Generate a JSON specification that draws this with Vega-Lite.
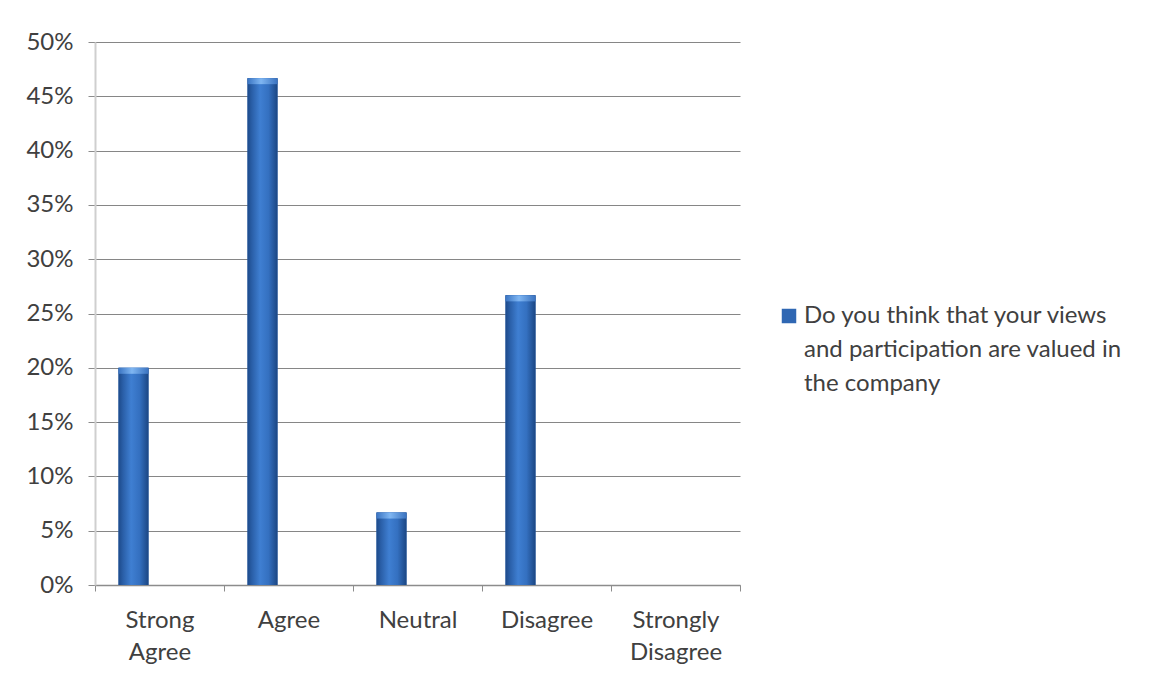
{
  "$schema": "https://vega.github.io/schema/vega-lite/v6.json",
  "width": 645,
  "height": 543,
  "autosize": "none",
  "padding": {"left": 95, "top": 42, "right": 411, "bottom": 93},
  "background": "white",
  "config": {
    "font": "Lato",
    "view": {"stroke": null},
    "style": {"guide-label": {"lineHeight": 34}},
    "axis": {
      "labelFont": "Lato",
      "labelColor": "#404040",
      "labelFontSize": 24,
      "domainColor": "#a6a6a6",
      "tickColor": "#a6a6a6",
      "gridColor": "#868686",
      "gridWidth": 1
    },
    "legend": {"labelFont": "Lato", "labelColor": "#404040", "labelFontSize": 24}
  },
  "data": {
    "values": [
      {"response": "Strong Agree", "pct": 0.20, "series": "Do you think that your views and participation are valued in the company"},
      {"response": "Agree", "pct": 0.4667, "series": "Do you think that your views and participation are valued in the company"},
      {"response": "Neutral", "pct": 0.0667, "series": "Do you think that your views and participation are valued in the company"},
      {"response": "Disagree", "pct": 0.2667, "series": "Do you think that your views and participation are valued in the company"},
      {"response": "Strongly Disagree", "pct": 0.0, "series": "Do you think that your views and participation are valued in the company"}
    ]
  },
  "encoding": {
    "x": {
      "field": "response",
      "type": "nominal",
      "sort": null,
      "scale": {"paddingInner": 0, "paddingOuter": 0},
      "axis": {
        "title": null,
        "labelAngle": 0,
        "labelExpr": "datum.label == 'Strong Agree' ? ['Strong', 'Agree'] : datum.label == 'Strongly Disagree' ? ['Strongly', 'Disagree'] : datum.label",
        "labelBaseline": "top",
        "labelLineHeight": 32,
        "labelPadding": 17,
        "tickBand": "extent",
        "tickSize": 6,
        "domainWidth": 1.5,
        "domainColor": "#8c8c8c",
        "tickColor": "#8c8c8c"
      }
    },
    "y": {
      "field": "pct",
      "type": "quantitative",
      "scale": {"domain": [0, 0.5], "nice": false},
      "axis": {
        "title": null,
        "format": ".0%",
        "values": [0, 0.05, 0.1, 0.15, 0.2, 0.25, 0.3, 0.35, 0.4, 0.45, 0.5],
        "grid": true,
        "tickSize": 7,
        "tickColor": "#8c8c8c",
        "domainColor": "#cfcfcf",
        "domainWidth": 2,
        "labelPadding": 15
      }
    }
  },
  "layer": [
    {
      "mark": {"type": "bar", "width": 30, "xOffset": -26},
      "encoding": {
        "color": {
          "field": "series",
          "type": "nominal",
          "scale": {"range": ["#2f67b3"]},
          "legend": {
            "title": null,
            "orient": "none",
            "legendX": 682,
            "legendY": 262,
            "symbolType": "square",
            "symbolSize": 210,
            "symbolStrokeWidth": 0,
            "labelOffset": 3,
            "labelLimit": 400,
            "labelBaseline": "middle",
            "labelExpr": "[substring(datum.label, 0, 28), substring(datum.label, 29, 60), substring(datum.label, 61)]"
          }
        }
      }
    },
    {
      "mark": {
        "type": "bar",
        "width": 30,
        "xOffset": -26,
        "fill": {
          "gradient": "linear",
          "x1": 0, "y1": 0, "x2": 1, "y2": 0,
          "stops": [
            {"offset": 0, "color": "#1d4a8a"},
            {"offset": 0.15, "color": "#2a5fa8"},
            {"offset": 0.42, "color": "#3f7fd2"},
            {"offset": 0.7, "color": "#3470c0"},
            {"offset": 1, "color": "#1b4683"}
          ]
        }
      }
    },
    {
      "transform": [{"filter": "datum.pct > 0"}],
      "mark": {
        "type": "tick",
        "orient": "horizontal",
        "size": 30,
        "thickness": 6,
        "xOffset": -26,
        "yOffset": 3,
        "fill": {
          "gradient": "linear",
          "x1": 0, "y1": 0, "x2": 1, "y2": 0,
          "stops": [
            {"offset": 0, "color": "#3a74c2"},
            {"offset": 0.45, "color": "#7fb6f2"},
            {"offset": 1, "color": "#3a72bf"}
          ]
        },
        "opacity": 1
      }
    }
  ]
}
